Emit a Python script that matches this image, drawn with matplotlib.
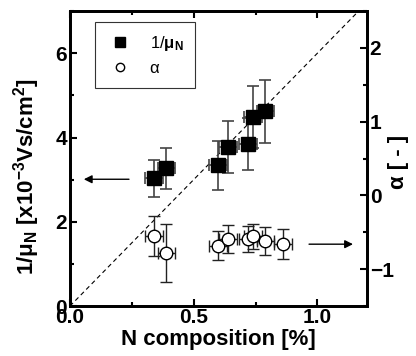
import matplotlib
matplotlib.use("Agg")
import matplotlib.pyplot as plt
from matplotlib.ticker import MultipleLocator, FormatStrFormatter
from matplotlib.lines import Line2D

plt.rcParams['font.family'] = ['Liberation Sans', 'DejaVu Sans']
plt.rcParams['font.weight'] = 'bold'
plt.rcParams['mathtext.fontset'] = 'custom'
plt.rcParams['mathtext.rm'] = 'Liberation Sans'
plt.rcParams['mathtext.it'] = 'Liberation Sans:italic'
plt.rcParams['mathtext.bf'] = 'Liberation Sans:bold'

# 1/mu_N data (left axis)
n_sq = [0.34, 0.39, 0.60, 0.64, 0.72, 0.74, 0.79]
inv_mu = [3.03, 3.27, 3.34, 3.77, 3.84, 4.48, 4.62]
inv_mu_err = [0.44, 0.49, 0.58, 0.61, 0.62, 0.74, 0.74]
n_sq_err = [0.036] * 7

# alpha data (right axis)
n_ci = [0.34, 0.39, 0.60, 0.64, 0.72, 0.74, 0.79, 0.86]
alpha = [-0.55, -0.78, -0.68, -0.59, -0.59, -0.55, -0.62, -0.66]
alpha_err = [0.27, 0.39, 0.20, 0.19, 0.18, 0.17, 0.19, 0.20]
n_ci_err = [0.036] * 8

fig = plt.figure(figsize=(4.16, 3.56), dpi=100)
ax = fig.add_axes([0.168, 0.140, 0.714, 0.829])
ax2 = ax.twinx()

# dashed guide line
ax.plot([0, 1.2], [0, 7.2], ls=(0, (4, 3)), color='black', lw=0.8)

ax.errorbar(n_sq, inv_mu, yerr=inv_mu_err, xerr=n_sq_err, fmt='s',
            ms=10, mfc='black', mec='black', ecolor='#444444',
            elinewidth=1.2, capsize=4, capthick=1.2)
ax2.errorbar(n_ci, alpha, yerr=alpha_err, xerr=n_ci_err, fmt='o',
             ms=9, mfc='white', mec='black', mew=1.0, ecolor='#222222',
             elinewidth=1.0, capsize=4, capthick=1.0)

# arrows
ax.annotate('', xy=(0.045, 3.01), xytext=(0.25, 3.01),
            arrowprops=dict(arrowstyle='-|>', color='black', lw=1.0,
                            mutation_scale=12))
ax2.annotate('', xy=(1.155, -0.66), xytext=(0.955, -0.66),
             arrowprops=dict(arrowstyle='-|>', color='black', lw=1.0,
                             mutation_scale=12))

ax.set_xlim(0, 1.2)
ax.set_ylim(0, 7)
ax2.set_ylim(-1.5, 2.5)

ax.xaxis.set_major_locator(MultipleLocator(0.5))
ax.xaxis.set_minor_locator(MultipleLocator(0.25))
ax.yaxis.set_major_locator(MultipleLocator(2))
ax.yaxis.set_minor_locator(MultipleLocator(1))
ax2.yaxis.set_major_locator(MultipleLocator(1))
ax2.yaxis.set_minor_locator(MultipleLocator(0.5))
ax.xaxis.set_major_formatter(FormatStrFormatter('%.1f'))

for a in (ax, ax2):
    for s in a.spines.values():
        s.set_linewidth(2.0)
    a.tick_params(which='both', direction='in', width=1.5)
    a.tick_params(which='major', length=5, labelsize=15, pad=2)
    a.tick_params(which='minor', length=3)
ax.tick_params(axis='x', which='both', top=True)
ax.tick_params(axis='y', which='both', right=False)
ax.tick_params(axis='x', pad=1)

ax.set_xlabel('N composition [%]', fontsize=16, fontweight='bold', labelpad=2)
ax.set_ylabel('1/$\\mathbf{\\mu_N}$ [x10$^\\mathbf{-3}$Vs/cm$^\\mathbf{2}$]',
              fontsize=16, fontweight='bold')
ax.yaxis.set_label_coords(-0.095, 0.44)
ax2.set_ylabel('α [ - ]', fontsize=16, fontweight='bold')
ax2.yaxis.set_label_coords(1.07, 0.49)

handles = [Line2D([], [], ls='none', marker='s', ms=7, mfc='black', mec='black'),
           Line2D([], [], ls='none', marker='o', ms=6, mfc='white', mec='black')]
leg = ax2.legend(handles, ['1/$\\mathrm{\\mu_N}$', 'α'], loc='upper left',
                 bbox_to_anchor=(0.055, 0.99), prop={'size': 12, 'weight': 'normal'},
                 fancybox=False, edgecolor='#333333', framealpha=1,
                 handletextpad=1.0, borderpad=0.7, labelspacing=0.5,
                 handlelength=1.6)
leg.get_frame().set_linewidth(0.8)

fig.savefig('out.png', dpi=100)
